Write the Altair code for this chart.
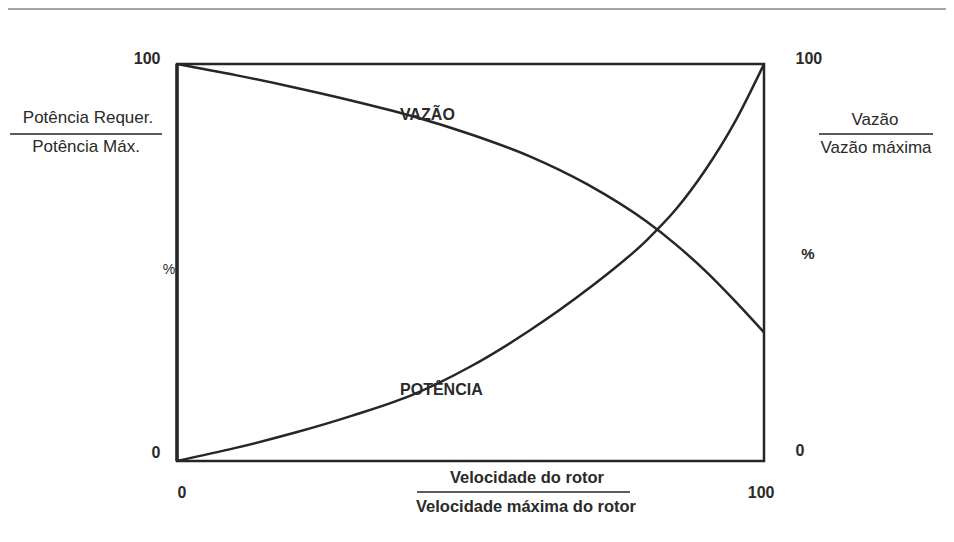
import altair as alt
import pandas as pd

# ---- data ----
speed = [0, 10, 20, 30, 40, 50, 60, 70, 80, 85, 90, 95, 100]
power = [0, 3.3, 7.1, 11.5, 16.6, 23.8, 32.8, 43.3, 55.6, 63.4, 73.3, 85.3, 100]
flow = [100, 97.2, 94.1, 90.7, 86.9, 82.3, 76.8, 69.6, 60.3, 54.5, 47.9, 40.4, 32.4]

tick_values = [0, 100]

curve_labels = ["VAZÃO", "POTÊNCIA"]
curve_label_x = [38, 38]
curve_label_y = [87.2, 17.9]

left_title = ["Potência Requer.", "Potência Máx."]
right_title = ["Vazão", "Vazão máxima"]
bottom_title = ["Velocidade do rotor", "Velocidade máxima do rotor"]
unit = "%"

# ---- styling ----
FONT = "Liberation Sans"
INK = "#262626"
TXT = "#2a2a2a"

df = pd.DataFrame({"speed": speed, "power": power, "flow": flow})
lab_df = pd.DataFrame({"x": curve_label_x, "y": curve_label_y, "label": curve_labels})

xs = alt.Scale(domain=[0, 100], nice=False, zero=False)
ys = alt.Scale(domain=[0, 100], nice=False, zero=False)

x_axis = alt.Axis(values=tick_values, ticks=False, domain=False, grid=False, title=None,
                  labelFont=FONT, labelFontSize=16, labelFontWeight="bold", labelColor=TXT,
                  labelBaseline="middle", labelPadding=31,
                  labelOffset={"condition": {"test": "datum.value == 100", "value": 10}, "value": 0})
left_axis = alt.Axis(values=tick_values, ticks=False, domain=False, grid=False, title=None,
                     orient="left", labelFont=FONT, labelFontSize=16, labelFontWeight="bold",
                     labelColor=TXT, labelPadding=17,
                     labelOffset={"condition": {"test": "datum.value == 100", "value": -6}, "value": -9})
right_axis = alt.Axis(values=tick_values, ticks=False, domain=False, grid=False, title=None,
                      orient="right", labelFont=FONT, labelFontSize=16, labelFontWeight="bold",
                      labelColor=TXT, labelPadding=31,
                      labelOffset={"condition": {"test": "datum.value == 100", "value": -6}, "value": -11})

power_line = alt.Chart(df).mark_line(color=INK, strokeWidth=2.5, interpolate="monotone").encode(
    x=alt.X("speed:Q", scale=xs, axis=x_axis),
    y=alt.Y("power:Q", scale=ys, axis=left_axis),
)
flow_line = alt.Chart(df).mark_line(color=INK, strokeWidth=2.5, interpolate="monotone").encode(
    x=alt.X("speed:Q", scale=xs, axis=x_axis),
    y=alt.Y("flow:Q", scale=ys, axis=right_axis),
)
curve_text = alt.Chart(lab_df).mark_text(align="left", baseline="middle", font=FONT,
                                          fontSize=16, fontWeight="bold", color=TXT).encode(
    x=alt.X("x:Q", scale=xs, axis=x_axis),
    y=alt.Y("y:Q", scale=ys, axis=None),
    text="label:N",
)


def note(text, px, py, size=17, weight="normal", align="center"):
    return alt.Chart(pd.DataFrame({"t": [text]})).mark_text(
        align=align, baseline="middle", font=FONT, fontSize=size, fontWeight=weight, color=TXT
    ).encode(x=alt.value(px), y=alt.value(py), text="t:N")


def hrule(x1, x2, y, color=INK, width=1.3):
    return alt.Chart(pd.DataFrame({"a": [0]})).mark_rule(color=color, strokeWidth=width).encode(
        x=alt.value(x1), x2=alt.value(x2), y=alt.value(y))


def vrule(x, y1, y2, color=INK, width=1.3):
    return alt.Chart(pd.DataFrame({"a": [0]})).mark_rule(color=color, strokeWidth=width).encode(
        x=alt.value(x), y=alt.value(y1), y2=alt.value(y2))


annotations = [
    note(left_title[0], -89, 54),
    hrule(-167, -15, 70),
    note(left_title[1], -91, 83),
    note(right_title[0], 698, 56),
    hrule(642, 756, 70),
    note(right_title[1], 699, 84),
    note(bottom_title[0], 350, 414, size=16.5, weight="bold"),
    hrule(240, 453, 428),
    note(bottom_title[1], 349, 443, size=16.5, weight="bold"),
    note(unit, -8, 206, size=14),
    note(unit, 631, 190, size=15, weight="bold"),
    hrule(-177, 777, -55, color="#8a8a8a", width=1.6),
    vrule(0, 0, 397, color=INK, width=3.5),
]

chart = alt.layer(power_line, flow_line, curve_text, *annotations).resolve_scale(
    y="independent"
).properties(
    width=587,
    height=397,
    autosize=alt.AutoSizeParams(type="none"),
    padding={"left": 169, "top": 56, "right": 182, "bottom": 70},
    background="white",
).configure_view(stroke=INK, strokeWidth=2.5)

chart.save("out.html", embed_options={"renderer": "svg", "actions": False})
